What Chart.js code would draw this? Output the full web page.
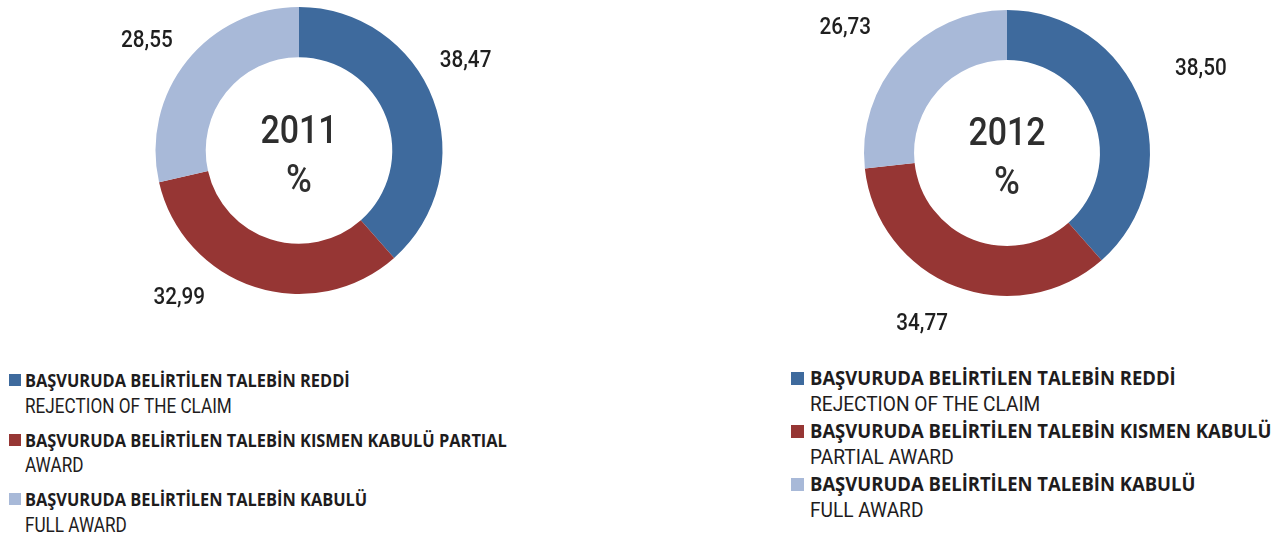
<!DOCTYPE html>
<html lang="tr">
<head>
<meta charset="utf-8">
<title>Başvuru sonuçları 2011 - 2012</title>
<script src="https://cdn.jsdelivr.net/npm/chart.js@4.4.0/dist/chart.umd.min.js"></script>
<style>
  html, body { margin: 0; padding: 0; background: #fff; }
  body { width: 1283px; height: 538px; position: relative; overflow: hidden; }
  .box { position: absolute; }
  .legend { position: absolute; color: #1e1c1d; }
  .legend .item { position: relative; }
  .legend .sw { position: absolute; }
  .legend .tr, .legend .en { white-space: nowrap; display: block; transform-origin: 0 50%; }
  .legend .tr { font-family: "Open Sans", sans-serif; font-weight: bold; }
  .legend .en { font-family: Roboto, sans-serif; }
</style>
</head>
<body>
<div class="box" id="b1" style="left:19px;top:0;width:560px;height:340px"><canvas id="c1"></canvas></div>
<div class="box" id="b2" style="left:757px;top:0;width:500px;height:340px"><canvas id="c2"></canvas></div>
<div class="legend" id="lg1" style="left:9px;top:367px"></div>
<div class="legend" id="lg2" style="left:791px;top:365px"></div>
<script>
// veriler
var years = ["2011", "2012"];
var categoriesTr = [
  "BAŞVURUDA BELİRTİLEN TALEBİN REDDİ",
  "BAŞVURUDA BELİRTİLEN TALEBİN KISMEN KABULÜ",
  "BAŞVURUDA BELİRTİLEN TALEBİN KABULÜ"
];
var categoriesEn = ["REJECTION OF THE CLAIM", "PARTIAL AWARD", "FULL AWARD"];
var values2011 = [38.47, 32.99, 28.55];
var values2012 = [38.50, 34.77, 26.73];
var sliceColors = ["#3e6a9d", "#963634", "#a8b9d8"];

// etiketler ve ortadaki yazi
var pieText = {
  id: "pieText",
  afterDatasetsDraw: function (chart, args, opts) {
    var ctx = chart.ctx;
    var meta = chart.getDatasetMeta(0);
    var values = chart.data.datasets[0].data;
    ctx.save();
    ctx.fillStyle = "#1f1f1f";
    ctx.font = "500 23.5px Roboto";
    ctx.textAlign = "center";
    ctx.textBaseline = "alphabetic";
    meta.data.forEach(function (arc, i) {
      var nudge = opts.nudge[i];
      var mid = (arc.startAngle + arc.endAngle) / 2 + nudge[0] * Math.PI / 180;
      var lx = arc.x + Math.cos(mid) * nudge[1];
      var ly = arc.y + Math.sin(mid) * nudge[1];
      ctx.save();
      ctx.translate(lx, ly + 8.3);
      ctx.scale(0.88, 1);
      ctx.fillText(values[i].toFixed(2).replace(".", ","), 0, 0);
      ctx.restore();
    });
    var cx = meta.data[0].x, cy = meta.data[0].y;
    ctx.fillStyle = "#2e2e2e";
    ctx.font = "500 39px Roboto";
    ctx.save();
    ctx.translate(cx, cy - 8);
    ctx.scale(0.87, 1);
    ctx.fillText(opts.year, 0, 0);
    ctx.restore();
    ctx.save();
    ctx.translate(cx, cy + 41);
    ctx.scale(0.9, 1);
    ctx.fillText("%", 0, 0);
    ctx.restore();
    ctx.restore();
  }
};

function makeChart(id, values, year, radius, padTop, padBottom, nudge) {
  return new Chart(document.getElementById(id), {
    type: "doughnut",
    data: {
      labels: categoriesTr,
      datasets: [{
        data: values,
        backgroundColor: sliceColors,
        borderWidth: 0,
        hoverOffset: 0
      }]
    },
    options: {
      responsive: true,
      maintainAspectRatio: false,
      animation: false,
      events: [],
      radius: radius,
      cutout: "65%",
      layout: { padding: { top: padTop, bottom: padBottom, left: 0, right: 0 } },
      plugins: {
        legend: { display: false },
        tooltip: { enabled: false },
        pieText: { year: year, nudge: nudge }
      }
    },
    plugins: [pieText]
  });
}

makeChart("c1", values2011, years[0], 143.5, 7, 46, [[-8, 190], [21.7, 188], [-2.4, 188.5]]);
makeChart("c2", values2012, years[1], 143, 10, 44, [[-3.2, 212], [5.5, 189], [-3.6, 206]]);

// lejant
function legend(id, st) {
  var el = document.getElementById(id);
  categoriesTr.forEach(function (tr, i) {
    var words = categoriesEn[i].split(" ");
    var moved = words.slice(0, st.carry[i]).join(" ");
    var rest = words.slice(st.carry[i]).join(" ");
    var item = document.createElement("div");
    item.className = "item";
    item.style.marginBottom = st.gap + "px";
    var sw = document.createElement("div");
    sw.className = "sw";
    sw.style.background = sliceColors[i];
    sw.style.width = st.box + "px";
    sw.style.height = st.box + "px";
    sw.style.left = "0px";
    sw.style.top = (st.lineH / 2 - st.box / 2) + "px";
    item.appendChild(sw);
    var a = document.createElement("span");
    a.className = "tr";
    a.style.fontSize = st.trSize + "px";
    a.style.lineHeight = st.lineH + "px";
    a.style.transform = "scaleX(" + st.trScale + ")";
    a.style.marginLeft = st.textLeft + "px";
    a.textContent = moved ? tr + " " + moved : tr;
    item.appendChild(a);
    var b = document.createElement("span");
    b.className = "en";
    b.style.fontSize = st.enSize + "px";
    b.style.lineHeight = st.lineH + "px";
    b.style.transform = "scaleX(" + st.enScale + ")";
    b.style.marginLeft = st.textLeft + "px";
    b.textContent = rest;
    item.appendChild(b);
    el.appendChild(item);
  });
}
legend("lg1", { carry: [0, 1, 0], lineH: 26.5, gap: 6.5, textLeft: 16, box: 12,
  trSize: 18, trScale: 0.91, enSize: 19.5, enScale: 0.88 });
legend("lg2", { carry: [0, 0, 0], lineH: 26.3, gap: 0.4, textLeft: 19, box: 13,
  trSize: 19.5, trScale: 0.946, enSize: 21, enScale: 0.91 });
</script>
</body>
</html>
